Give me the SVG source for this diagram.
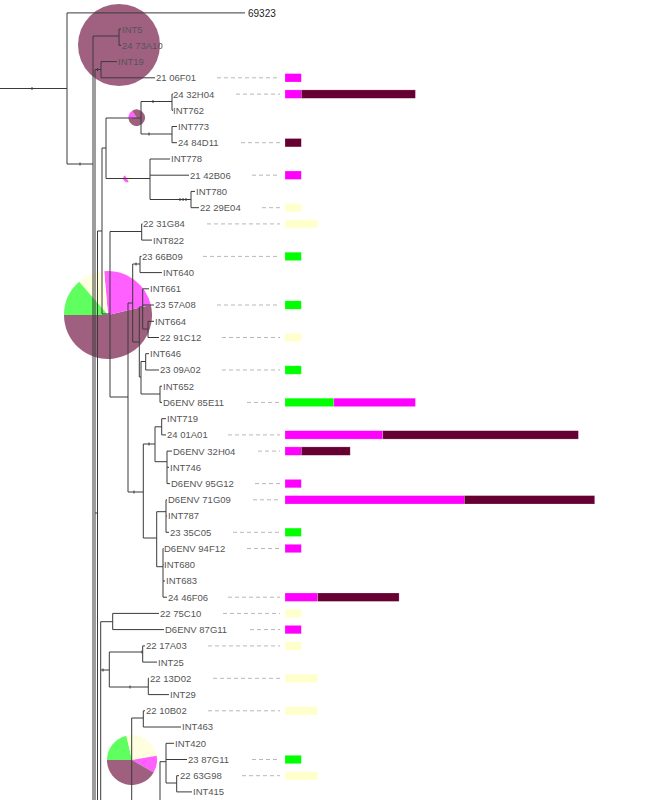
<svg xmlns="http://www.w3.org/2000/svg" width="653" height="800" viewBox="0 0 653 800">
<style>
text{font-family:"Liberation Sans",Arial,sans-serif;font-size:9.5px;fill:#555}
.t0{fill:#222;font-size:10px}
.e{fill:none;stroke:#3a3a3a;stroke-width:1}
.k{fill:none;stroke:#3a3a3a;stroke-width:1}
.d{stroke:#b8b8b8;stroke-width:1;stroke-dasharray:4,3}
.m{fill:#ff00ff}
.dk{fill:#660033}
.g{fill:#00ff00}
.y{fill:#ffffcc}
rect{stroke:#ffffff;stroke-opacity:0.35;stroke-width:0.6}
.p{opacity:0.62}
</style>
<rect x="0" y="0" width="653" height="800" fill="#ffffff" stroke="none"/>
<g id="pies">
<g id="pie1" class="p"><circle cx="119" cy="45" r="41" fill="#660033"/></g>
<g id="pie2" class="p">
<path d="M136.7,117.7 L131.94,110.9 A8.3,8.3 0 1 1 128.43,118.42 Z" fill="#660033"/>
<path d="M136.7,117.7 L128.43,118.42 A8.3,8.3 0 0 1 131.94,110.9 Z" fill="#ff00ff"/>
</g>
<g id="pie3" class="p">
<path d="M127,178.5 L128.9,181.79 A3.8,3.8 0 0 1 125.1,175.21 Z" fill="#ff00ff"/>
<path d="M127,178.5 L125.1,175.21 A3.8,3.8 0 0 1 128.9,181.79 Z" fill="#ffffcc"/>
</g>
<g id="pie4" class="p">
<path d="M108,315 L150.87,305.1 A44,44 0 1 1 64,315 Z" fill="#660033"/>
<path d="M108,315 L104.17,271.17 A44,44 0 0 1 150.87,305.1 Z" fill="#ff00ff"/>
<path d="M108,315 L79.13,281.79 A44,44 0 0 1 104.17,271.17 Z" fill="#ffffcc"/>
<path d="M108,315 L64,315 A44,44 0 0 1 79.13,281.79 Z" fill="#00ff00"/>
</g>
<g id="pie5" class="p">
<path d="M132,760 L107,760 A25,25 0 0 1 126.38,735.64 Z" fill="#00ff00"/>
<path d="M132,760 L126.38,735.64 A25,25 0 0 1 156.62,755.66 Z" fill="#ffffcc"/>
<path d="M132,760 L156.62,755.66 A25,25 0 0 1 153.65,772.5 Z" fill="#ff00ff"/>
<path d="M132,760 L153.65,772.5 A25,25 0 0 1 107,760 Z" fill="#660033"/>
</g>
</g>
<g id="connectors">
<path class="e" d="M0,88.5 H67 M67,12.9 V164 M67,12.9 H245 M67,164 H93 M93,36 V800 M93,36 H119 M119,29.1 V45.4 M119,29.1 H121 M119,45.4 H121 M95,69.5 V800 M95,69.5 H101 M101,61.6 V77.8 M101,61.6 H117 M101,77.8 H155"/>
<path class="e" d="M97.5,231 V800 M95,513 H97.5 M97.5,231 H102 M102,148 V314 M102,148 H106 M106,118 V178.5 M106,118 H141 M141,101.5 V134 M141,101.5 H172 M172,94.1 V110.3 M172,94.1 H173 M172,110.3 H173 M141,134 H172 M172,126.5 V142.7 M172,126.5 H177 M172,142.7 H177 M106,178.5 H150 M150,159 V199.5 M150,159 H170 M150,175.2 H189 M150,199.5 H191 M191,191.4 V207.7 M191,191.4 H195 M191,207.7 H199"/>
<path class="e" d="M102,314 H110 M110,231.5 V397 M110,231.5 H141.7 M141.7,223.9 V240.1 M141.7,223.9 H142.5 M141.7,240.1 H152 M110,397 H128 M128,303 V492 M128,303 H132.7 M132.7,264 V342 M132.7,264 H140 M140,256.4 V272.6 M140,256.4 H141.5 M140,272.6 H162 M132.7,342 H139.3 M139.3,307 V377 M139.3,307 H142.7 M142.7,288.8 V329 M142.7,288.8 H149 M142.7,305 H154 M142.7,329 H148 M148,321.3 V337.5 M148,321.3 H154 M148,337.5 H159 M139.3,377 H141 M141,361.5 V394 M141,361.5 H145.7 M145.7,353.7 V370 M145.7,353.7 H149 M145.7,370 H159 M141,394 H160 M160,386.2 V402.4 M160,386.2 H162 M160,402.4 H162"/>
<path class="e" d="M128,492 H143.3 M143.3,444 V538 M143.3,444 H155 M155,426.8 V461.7 M155,426.8 H161.7 M161.7,418.7 V434.9 M161.7,418.7 H166 M161.7,434.9 H166 M155,461.7 H167 M167,451.1 V483.6 M167,451.1 H172 M167,467.3 H169 M167,483.6 H170 M143.3,538 H156.7 M156.7,511.7 V566.7 M156.7,511.7 H166 M166,499.8 V532.3 M166,499.8 H167 M166,516 H167 M166,532.3 H169 M156.7,566.7 H163 M163,548.5 V597.2 M163,548.5 H163.5 M163,564.7 H163.5 M163,581 H165 M163,597.2 H167"/>
<path class="e" d="M100.7,621.7 V800 M100.7,621.7 H112.7 M112.7,613.4 V629.6 M112.7,613.4 H159 M112.7,629.6 H164 M100.7,670 H109.3 M109.3,652 V687 M109.3,652 H142.7 M142.7,645.9 V662.1 M142.7,645.9 H145 M142.7,662.1 H157 M109.3,687 H148.3 M148.3,678.3 V694.6 M148.3,678.3 H149 M148.3,694.6 H169 M131.7,718 V800 M131.7,718 H143.3 M143.3,710.8 V727 M143.3,710.8 H145 M143.3,727 H181 M160,761.7 V800 M160,761.7 H166 M166,743.3 V783 M166,743.3 H174 M166,759.5 H187 M166,783 H176.7 M176.7,775.7 V791.9 M176.7,775.7 H179 M176.7,791.9 H192"/>
<path class="k" d="M32,87 V90 M80,162.5 V165.5 M97.5,68 V71 M153,100 V103 M149,132.5 V135.5 M180,198 V201 M183,198 V201 M186,198 V201 M136,262.5 V265.5 M130,685.5 V688.5 M103,668.5 V671.5 M142,650.5 V653.5 M149,442.5 V445.5 M134,490.5 V493.5"/>
</g>
<g id="leaves">
<g id="n0"><text class="t0" x="248" y="16.5">69323</text></g>
<g id="n1"><text x="122" y="32.5">INT5</text></g>
<g id="n2"><text x="122" y="48.8">24 73A10</text></g>
<g id="n3"><text x="118" y="65">INT19</text></g>
<g id="n4"><text x="156" y="81.2">21 06F01</text><line class="d" x1="217" y1="77.8" x2="280" y2="77.8"/><rect class="m" x="285" y="73.6" width="16.3" height="8.4"/></g>
<g id="n5"><text x="173" y="97.5">24 32H04</text><line class="d" x1="236" y1="94.1" x2="280" y2="94.1"/><rect class="m" x="285" y="89.9" width="16.3" height="8.4"/><rect class="dk" x="301.3" y="89.9" width="114.1" height="8.4"/></g>
<g id="n6"><text x="173" y="113.7">INT762</text></g>
<g id="n7"><text x="178" y="129.9">INT773</text></g>
<g id="n8"><text x="178" y="146.1">24 84D11</text><line class="d" x1="241" y1="142.7" x2="280" y2="142.7"/><rect class="dk" x="285" y="138.5" width="16.3" height="8.4"/></g>
<g id="n9"><text x="171" y="162.4">INT778</text></g>
<g id="n10"><text x="190" y="178.6">21 42B06</text><line class="d" x1="252" y1="175.2" x2="280" y2="175.2"/><rect class="m" x="285" y="171" width="16.3" height="8.4"/></g>
<g id="n11"><text x="196" y="194.8">INT780</text></g>
<g id="n12"><text x="200" y="211.1">22 29E04</text><line class="d" x1="262" y1="207.7" x2="280" y2="207.7"/><rect class="y" x="285" y="203.5" width="16.3" height="8.4"/></g>
<g id="n13"><text x="143" y="227.3">22 31G84</text><line class="d" x1="207" y1="223.9" x2="280" y2="223.9"/><rect class="y" x="285" y="219.7" width="32.6" height="8.4"/></g>
<g id="n14"><text x="153" y="243.5">INT822</text></g>
<g id="n15"><text x="142" y="259.8">23 66B09</text><line class="d" x1="203" y1="256.4" x2="280" y2="256.4"/><rect class="g" x="285" y="252.2" width="16.3" height="8.4"/></g>
<g id="n16"><text x="163" y="276">INT640</text></g>
<g id="n17"><text x="150" y="292.2">INT661</text></g>
<g id="n18"><text x="155" y="308.4">23 57A08</text><line class="d" x1="217" y1="305" x2="280" y2="305"/><rect class="g" x="285" y="300.8" width="16.3" height="8.4"/></g>
<g id="n19"><text x="155" y="324.7">INT664</text></g>
<g id="n20"><text x="160" y="340.9">22 91C12</text><line class="d" x1="222" y1="337.5" x2="280" y2="337.5"/><rect class="y" x="285" y="333.3" width="16.3" height="8.4"/></g>
<g id="n21"><text x="150" y="357.1">INT646</text></g>
<g id="n22"><text x="160" y="373.4">23 09A02</text><line class="d" x1="222" y1="370" x2="280" y2="370"/><rect class="g" x="285" y="365.8" width="16.3" height="8.4"/></g>
<g id="n23"><text x="163" y="389.6">INT652</text></g>
<g id="n24"><text x="163" y="405.8">D6ENV 85E11</text><line class="d" x1="247" y1="402.4" x2="280" y2="402.4"/><rect class="g" x="285" y="398.2" width="48.9" height="8.4"/><rect class="m" x="333.9" y="398.2" width="81.5" height="8.4"/></g>
<g id="n25"><text x="167" y="422.1">INT719</text></g>
<g id="n26"><text x="167" y="438.3">24 01A01</text><line class="d" x1="228" y1="434.9" x2="280" y2="434.9"/><rect class="m" x="285" y="430.7" width="97.8" height="8.4"/><rect class="dk" x="382.8" y="430.7" width="195.6" height="8.4"/></g>
<g id="n27"><text x="173" y="454.5">D6ENV 32H04</text><line class="d" x1="258" y1="451.1" x2="280" y2="451.1"/><rect class="m" x="285" y="446.9" width="16.3" height="8.4"/><rect class="dk" x="301.3" y="446.9" width="48.9" height="8.4"/></g>
<g id="n28"><text x="170" y="470.7">INT746</text></g>
<g id="n29"><text x="171" y="487">D6ENV 95G12</text><line class="d" x1="255" y1="483.6" x2="280" y2="483.6"/><rect class="m" x="285" y="479.4" width="16.3" height="8.4"/></g>
<g id="n30"><text x="168" y="503.2">D6ENV 71G09</text><line class="d" x1="253" y1="499.8" x2="280" y2="499.8"/><rect class="m" x="285" y="495.6" width="179.3" height="8.4"/><rect class="dk" x="464.3" y="495.6" width="130.4" height="8.4"/></g>
<g id="n31"><text x="168" y="519.4">INT787</text></g>
<g id="n32"><text x="170" y="535.7">23 35C05</text><line class="d" x1="233" y1="532.3" x2="280" y2="532.3"/><rect class="g" x="285" y="528.1" width="16.3" height="8.4"/></g>
<g id="n33"><text x="164" y="551.9">D6ENV 94F12</text><line class="d" x1="247" y1="548.5" x2="280" y2="548.5"/><rect class="m" x="285" y="544.3" width="16.3" height="8.4"/></g>
<g id="n34"><text x="164" y="568.1">INT680</text></g>
<g id="n35"><text x="166" y="584.4">INT683</text></g>
<g id="n36"><text x="168" y="600.6">24 46F06</text><line class="d" x1="228" y1="597.2" x2="280" y2="597.2"/><rect class="m" x="285" y="593" width="32.6" height="8.4"/><rect class="dk" x="317.6" y="593" width="81.5" height="8.4"/></g>
<g id="n37"><text x="160" y="616.8">22 75C10</text><line class="d" x1="223" y1="613.4" x2="280" y2="613.4"/><rect class="y" x="285" y="609.2" width="16.3" height="8.4"/></g>
<g id="n38"><text x="165" y="633">D6ENV 87G11</text><line class="d" x1="250" y1="629.6" x2="280" y2="629.6"/><rect class="m" x="285" y="625.4" width="16.3" height="8.4"/></g>
<g id="n39"><text x="146" y="649.3">22 17A03</text><line class="d" x1="208" y1="645.9" x2="280" y2="645.9"/><rect class="y" x="285" y="641.7" width="16.3" height="8.4"/></g>
<g id="n40"><text x="158" y="665.5">INT25</text></g>
<g id="n41"><text x="150" y="681.7">22 13D02</text><line class="d" x1="213" y1="678.3" x2="280" y2="678.3"/><rect class="y" x="285" y="674.1" width="32.6" height="8.4"/></g>
<g id="n42"><text x="170" y="698">INT29</text></g>
<g id="n43"><text x="146" y="714.2">22 10B02</text><line class="d" x1="208" y1="710.8" x2="280" y2="710.8"/><rect class="y" x="285" y="706.6" width="32.6" height="8.4"/></g>
<g id="n44"><text x="182" y="730.4">INT463</text></g>
<g id="n45"><text x="175" y="746.7">INT420</text></g>
<g id="n46"><text x="188" y="762.9">23 87G11</text><line class="d" x1="252" y1="759.5" x2="280" y2="759.5"/><rect class="g" x="285" y="755.3" width="16.3" height="8.4"/></g>
<g id="n47"><text x="180" y="779.1">22 63G98</text><line class="d" x1="242" y1="775.7" x2="280" y2="775.7"/><rect class="y" x="285" y="771.5" width="32.6" height="8.4"/></g>
<g id="n48"><text x="193" y="795.3">INT415</text></g>
</g>
</svg>
